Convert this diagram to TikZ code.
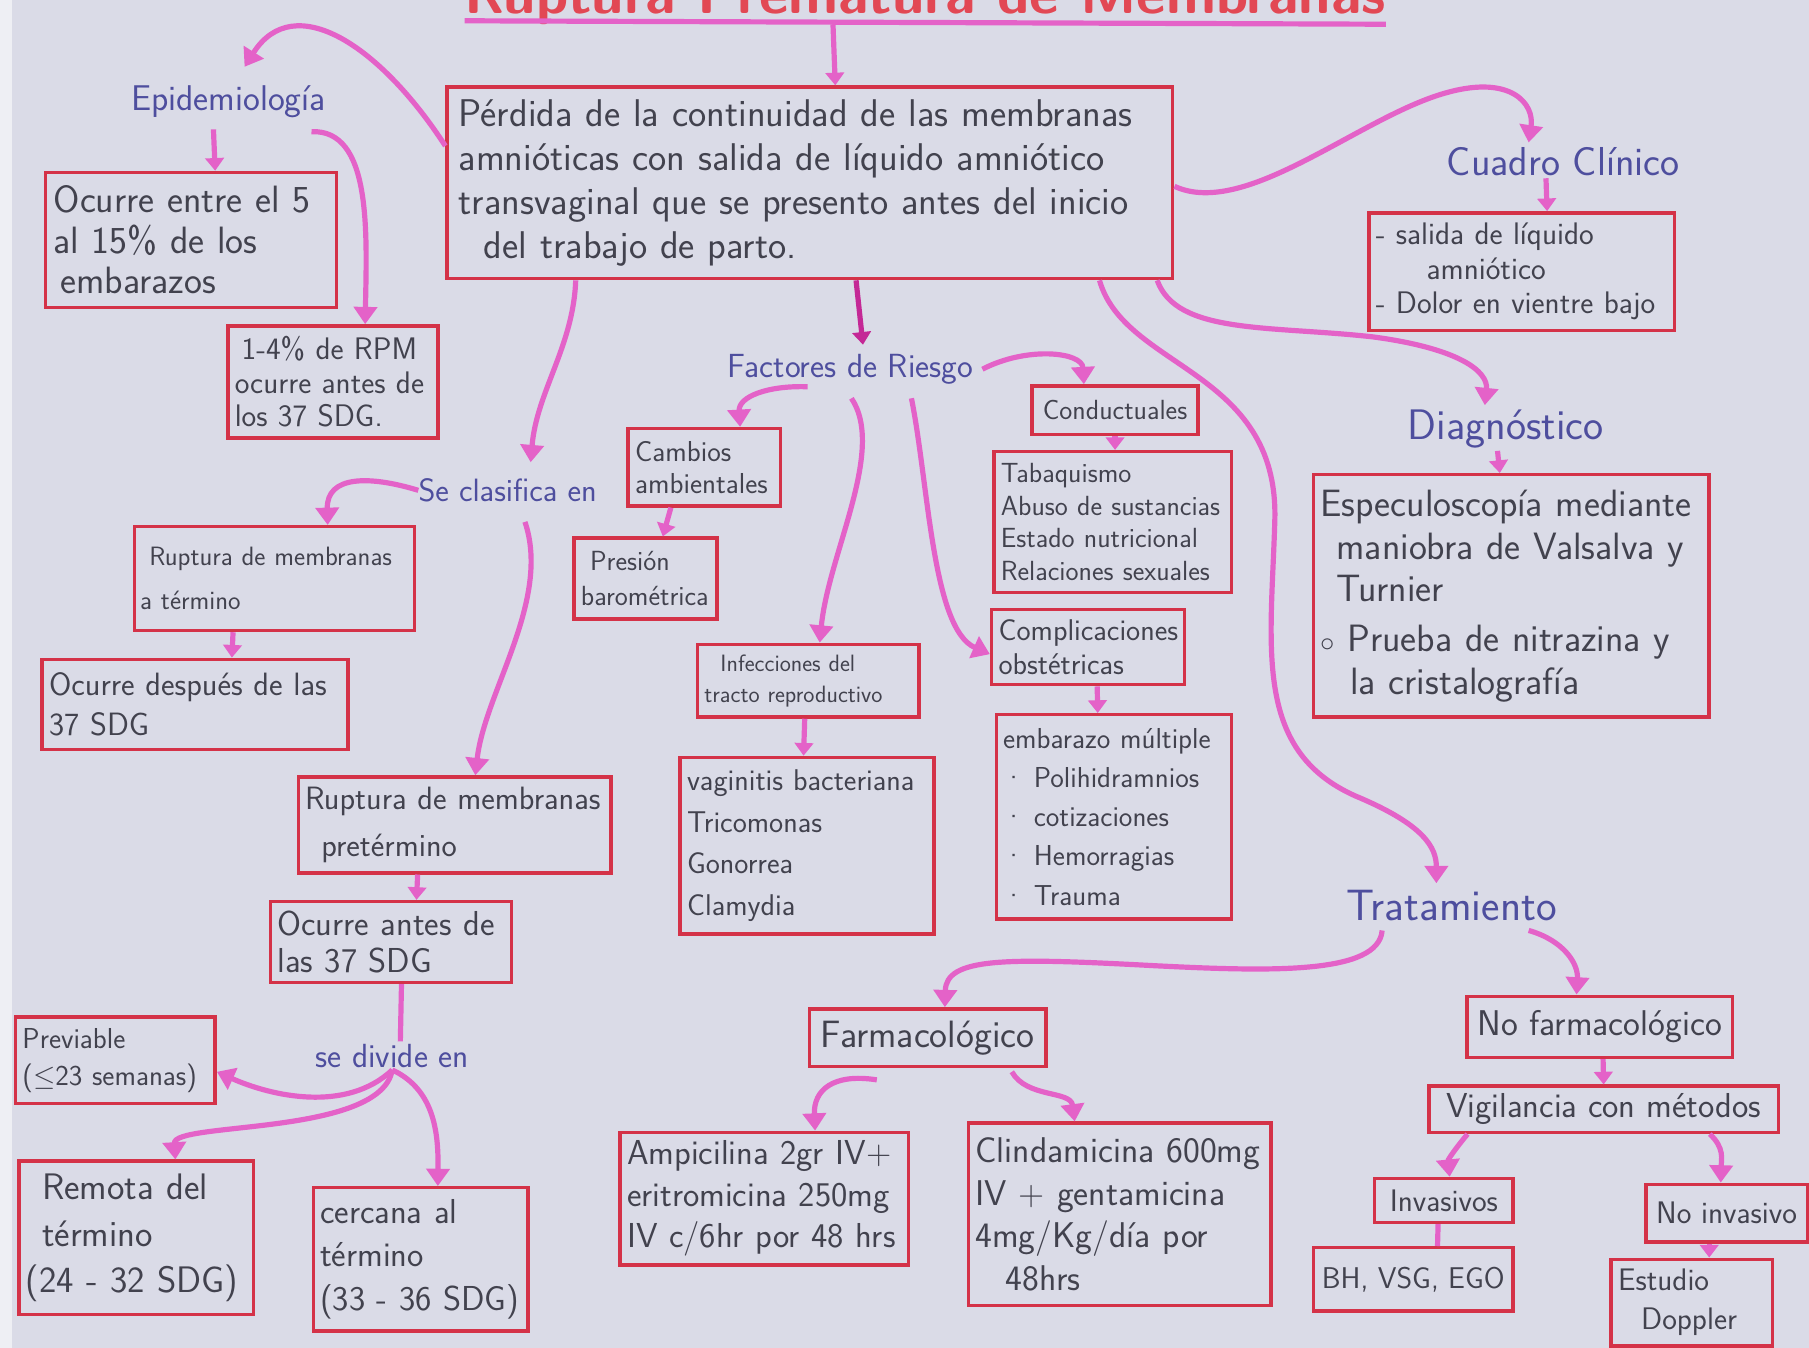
\documentclass[tikz,border=0pt]{standalone}
\usepackage{amsmath}
\usepackage{amssymb}
\usepackage{tikz}
\usetikzlibrary{arrows.meta}
\renewcommand{\familydefault}{\sfdefault}

\definecolor{papel}{RGB}{218,219,231}
\definecolor{rojo}{RGB}{212,50,72}
\definecolor{rosa}{RGB}{228,98,200}
\definecolor{rosaosc}{RGB}{196,40,150}
\definecolor{azul}{RGB}{78,78,158}
\definecolor{tinta}{RGB}{66,66,78}
\definecolor{rojotit}{RGB}{226,72,84}

\begin{document}
\begin{tikzpicture}[x=1pt, y=-1pt,
    caja/.style={draw=rojo, line width=3pt, anchor=north west, align=left, inner xsep=6pt, inner ysep=4pt, text=tinta},
    tema/.style={text=azul, inner sep=2pt},
    flecha/.style={draw=rosa, line width=4.5pt, -{Triangle[width=20pt,length=15pt]}},
    flechita/.style={draw=rosa, line width=4.5pt, -{Triangle[width=16pt,length=11pt]}},
    linea/.style={draw=rosa, line width=4.5pt}]

    \fill[papel] (0,0) rectangle (1568,1168);
    \useasboundingbox (0,0) rectangle (1568,1168);
    \fill[white!55!papel] (0,0) rectangle (10,1168);

    \node[text=rojotit, font=\bfseries\fontsize{50}{54}\selectfont, anchor=base, inner sep=0pt] (titulo) at (802,12) {Ruptura Prematura de Membranas};
    \draw[linea] ([yshift=-6pt]titulo.base west) -- ([yshift=-9pt]titulo.base east);

    \node[caja, minimum width=629, minimum height=166, text width=609pt, font=\fontsize{33.5}{38}\selectfont] (prin) at (386,74)
        {Pérdida de la continuidad de las membranas\\ amnióticas con salida de líquido amniótico\\ transvaginal que se presento antes del inicio\\ \hspace*{22pt}del trabajo de parto.};

    \node[tema, font=\fontsize{31}{33}\selectfont] (epi) at (198,88) {Epidemiología};
    \node[tema, font=\fontsize{28}{30}\selectfont] (clasif) at (440,425) {Se clasifica en};
    \node[tema, font=\fontsize{29}{31}\selectfont] (divide) at (340,915) {se divide en};
    \node[tema, font=\fontsize{29}{31}\selectfont] (factores) at (737,320) {Factores de Riesgo};
    \node[tema, font=\fontsize{35}{37}\selectfont] (cuadro) at (1355,140) {Cuadro Clínico};
    \node[tema, font=\fontsize{37}{39}\selectfont] (diag) at (1305,372) {Diagnóstico};
    \node[tema, font=\fontsize{38}{40}\selectfont] (trat) at (1258,785) {Tratamiento};

    \node[caja, minimum width=252, minimum height=117, text width=238pt, font=\fontsize{33}{35}\selectfont] (epiA) at (38,148)
        {Ocurre entre el 5\\ al 15\% de los\\ \hspace*{6pt}embarazos};
    \node[caja, minimum width=182, minimum height=97, text width=170pt, font=\fontsize{27}{29}\selectfont] (epiB) at (196,281)
        {\hspace*{6pt}1-4\% de RPM\\ ocurre antes de\\ los 37 SDG.};
    \node[caja, minimum width=243, minimum height=90, text width=233pt, inner xsep=5pt, font=\fontsize{23}{38}\selectfont] (termino) at (115,455)
        {\hspace*{8pt}Ruptura de membranas\\ a término};
    \node[caja, minimum width=265, minimum height=78, text width=253pt, font=\fontsize{28}{35}\selectfont] (despues) at (35,570)
        {Ocurre después de las\\ 37 SDG};
    \node[caja, minimum width=271, minimum height=83, text width=259pt, font=\fontsize{28}{40}\selectfont] (pretermino) at (257,672)
        {Ruptura de membranas\\ \hspace*{14pt}pretérmino};
    \node[caja, minimum width=209, minimum height=70, text width=197pt, font=\fontsize{30}{32}\selectfont] (antes) at (233,780)
        {Ocurre antes de\\ las 37 SDG};
    \node[caja, minimum width=173, minimum height=75, text width=161pt, font=\fontsize{25}{32}\selectfont] (previable) at (12,880)
        {Previable\\ ($\leq$23 semanas)};
    \node[caja, minimum width=203, minimum height=133, text width=191pt, font=\fontsize{32}{40}\selectfont] (remota) at (15,1005)
        {\hspace*{14pt}Remota del\\ \hspace*{14pt}término\\ (24 - 32 SDG)};
    \node[caja, minimum width=186, minimum height=124, text width=174pt, font=\fontsize{30}{38}\selectfont] (cercana) at (270,1028)
        {cercana al\\ término\\ (33 - 36 SDG)};

    \node[caja, minimum width=132, minimum height=67, text width=120pt, font=\fontsize{25}{28}\selectfont] (cambios) at (543,370)
        {Cambios\\ ambientales};
    \node[caja, minimum width=124, minimum height=70, text width=112pt, font=\fontsize{24}{30}\selectfont] (presion) at (496,465)
        {\hspace*{8pt}Presión\\ barométrica};
    \node[caja, minimum width=190, minimum height=63, text width=180pt, font=\fontsize{20.5}{27}\selectfont] (infecc) at (603,557)
        {\hspace*{14pt}Infecciones del\\ tracto reproductivo};
    \node[caja, minimum width=220, minimum height=153, text width=208pt, font=\fontsize{26}{36}\selectfont] (vaginitis) at (588,655)
        {vaginitis bacteriana\\ Tricomonas\\ Gonorrea\\ Clamydia};
    \node[caja, minimum width=144, minimum height=42, font=\fontsize{24}{26}\selectfont] (conduct) at (893,333) {Conductuales};
    \node[caja, minimum width=206, minimum height=122, text width=194pt, font=\fontsize{24}{28.5}\selectfont] (tabaq) at (860,390)
        {Tabaquismo\\ Abuso de sustancias\\ Estado nutricional\\ Relaciones sexuales};
    \node[caja, minimum width=167, minimum height=65, text width=155pt, font=\fontsize{26}{30}\selectfont] (compl) at (858,527)
        {Complicaciones\\ obstétricas};
    \node[caja, minimum width=204, minimum height=177, text width=192pt, font=\fontsize{25}{34}\selectfont] (embarazo) at (862,618)
        {embarazo múltiple\\ \textperiodcentered\ Polihidramnios\\ \textperiodcentered\ cotizaciones\\ \textperiodcentered\ Hemorragias\\ \textperiodcentered\ Trauma};

    \node[caja, minimum width=265, minimum height=102, text width=253pt, font=\fontsize{27}{30}\selectfont] (cuadroBox) at (1185,183)
        {- salida de líquido\\ \hspace*{44pt}amniótico\\ - Dolor en vientre bajo};
    \node[caja, minimum width=343, minimum height=210, text width=331pt, font=\fontsize{33}{37}\selectfont] (diagBox) at (1137,410)
        {Especuloscopía mediante\\ \hspace*{14pt}maniobra de Valsalva y\\ \hspace*{14pt}Turnier\\[6pt] $\circ$ Prueba de nitrazina y\\ \hspace*{26pt}la cristalografía};

    \node[caja, minimum width=205, minimum height=50, font=\fontsize{33}{35}\selectfont] (farmaco) at (700,873) {Farmacológico};
    \node[caja, minimum width=250, minimum height=115, text width=238pt, font=\fontsize{30}{36}\selectfont] (ampi) at (536,980)
        {Ampicilina 2gr IV+\\ eritromicina 250mg\\ IV c/6hr por 48 hrs};
    \node[caja, minimum width=262, minimum height=158, text width=250pt, font=\fontsize{31}{37}\selectfont] (clinda) at (838,972)
        {Clindamicina 600mg\\ IV + gentamicina\\ 4mg/Kg/día por\\ \hspace*{26pt}48hrs};
    \node[caja, minimum width=230, minimum height=53, font=\fontsize{31}{33}\selectfont] (nofarm) at (1270,862) {No farmacológico};
    \node[caja, minimum width=303, minimum height=40, inner ysep=2pt, font=\fontsize{30}{32}\selectfont] (vigil) at (1237,940) {Vigilancia con métodos};
    \node[caja, minimum width=120, minimum height=38, inner ysep=2pt, font=\fontsize{27}{29}\selectfont] (invas) at (1190,1020) {Invasivos};
    \node[caja, minimum width=173, minimum height=55, font=\fontsize{26}{28}\selectfont] (bh) at (1137,1080) {BH, VSG, EGO};
    \node[caja, minimum width=140, minimum height=50, font=\fontsize{27}{29}\selectfont] (noinvas) at (1425,1025) {No invasivo};
    \node[caja, minimum width=140, minimum height=75, text width=128pt, font=\fontsize{27}{34}\selectfont] (estudio) at (1395,1090)
        {Estudio\\ \hspace*{20pt}Doppler};

    \draw[flechita] ([xshift=-80pt,yshift=-9pt]titulo.base) -- ([xshift=22pt]prin.north);
    \draw[flecha] ([yshift=32pt]prin.west) .. controls (330,40) and (255,-10) .. ([xshift=14pt,yshift=14pt]epi.north);
    \draw[flechita] ([xshift=-13pt,yshift=-8pt]epi.south) -- ([xshift=21pt]epiA.north);
    \draw[flecha] ([xshift=72pt,yshift=-10pt]epi.south) .. controls (322,112) and (318,200) .. ([xshift=28pt]epiB.north);

    \draw[flecha] ([xshift=-203pt]prin.south) .. controls (497,300) and (465,340) .. ([xshift=20pt,yshift=12pt]clasif.north);
    \draw[flecha] ([xshift=2pt]clasif.west) .. controls (320,412) and (283,412) .. ([xshift=46pt]termino.north);
    \draw[flechita] ([xshift=-36pt]termino.south) -- ([xshift=32pt]despues.north);
    \draw[flecha] ([xshift=15pt,yshift=-15pt]clasif.south) .. controls (478,520) and (420,600) .. ([xshift=18pt]pretermino.north);
    \draw[flechita] ([xshift=-32pt]pretermino.south) -- ([xshift=22pt]antes.north);
    \draw[linea] ([xshift=9pt]antes.south) -- ([xshift=7pt]divide.north);
    \draw[flecha] (divide.south) .. controls (300,965) and (235,950) .. ([yshift=-10pt]previable.east);
    \draw[flecha] (divide.south) .. controls (330,985) and (150,972) .. ([xshift=34pt]remota.north);
    \draw[flecha] (divide.south) .. controls (378,945) and (380,985) .. ([xshift=15pt]cercana.north);

    \draw[flechita, draw=rosaosc] ([xshift=40pt]prin.south) -- ([xshift=11pt,yshift=6pt]factores.north);
    \draw[flecha] ([xshift=-37pt]factores.south) .. controls (665,334) and (640,344) .. ([xshift=31pt]cambios.north);
    \draw[flechita] ([xshift=-29pt]cambios.south) -- ([xshift=15pt]presion.north);
    \draw[flecha] ([xshift=1pt,yshift=-10pt]factores.south) .. controls (768,390) and (718,480) .. ([xshift=10pt]infecc.north);
    \draw[flechita] ([xshift=-3pt]infecc.south) -- ([xshift=-3pt]vaginitis.north);
    \draw[flecha] ([xshift=53pt,yshift=-10pt]factores.south) .. controls (805,420) and (808,545) .. ([yshift=-6pt]compl.west);
    \draw[flecha] ([xshift=6pt]factores.east) .. controls (890,300) and (938,305) .. ([xshift=-27pt]conduct.north);
    \draw[flechita] (conduct.south) -- ([xshift=2pt]tabaq.north);
    \draw[flechita] ([xshift=8pt]compl.south) -- ([xshift=-14pt]embarazo.north);

    \draw[flecha] ([yshift=-3pt]prin.east) .. controls (1080,190) and (1180,100) .. (1255,80) .. controls (1310,65) and (1330,90) .. ([xshift=-30pt,yshift=2pt]cuadro.north);
    \draw[flechita] ([xshift=-15pt]cuadro.south) -- ([xshift=22pt]cuadroBox.north);
    \draw[flecha] ([xshift=-15pt]prin.south east) .. controls (1020,290) and (1100,282) .. (1190,292) .. controls (1265,302) and (1290,322) .. ([xshift=-18pt,yshift=2pt]diag.north);
    \draw[flechita] ([xshift=-7pt]diag.south) -- ([xshift=-10pt]diagBox.north);
    \draw[flecha] ([xshift=-65pt]prin.south east) .. controls (975,320) and (1108,320) .. (1105,450) .. controls (1102,560) and (1085,650) .. (1175,690) .. controls (1235,715) and (1245,735) .. ([xshift=-13pt,yshift=4pt]trat.north);

    \draw[flecha] ([xshift=-60pt,yshift=-6pt]trat.south) .. controls (1195,845) and (1100,842) .. (1000,837) .. controls (870,830) and (820,830) .. ([xshift=15pt]farmaco.north);
    \draw[flecha] ([xshift=67pt,yshift=-6pt]trat.south) .. controls (1355,815) and (1368,835) .. ([xshift=-20pt]nofarm.north);
    \draw[flechita] ([xshift=3pt]nofarm.south) -- (vigil.north);
    \draw[flecha] ([xshift=-118pt]vigil.south) .. controls (1262,995) and (1255,1005) .. ([xshift=5pt]invas.north);
    \draw[linea] ([xshift=-5pt]invas.south) -- ([xshift=21pt]bh.north);
    \draw[flecha] ([xshift=92pt]vigil.south) .. controls (1495,995) and (1492,1005) .. ([xshift=-5pt]noinvas.north);
    \draw[flechita] ([xshift=-15pt]noinvas.south) -- ([xshift=15pt]estudio.north);
    \draw[flecha] ([xshift=-44pt,yshift=-10pt]farmaco.south) .. controls (722,930) and (705,945) .. ([xshift=44pt]ampi.north);
    \draw[flecha] ([xshift=73pt,yshift=-3pt]farmaco.south) .. controls (890,952) and (928,945) .. ([xshift=-39pt]clinda.north);
\end{tikzpicture}
\end{document}
